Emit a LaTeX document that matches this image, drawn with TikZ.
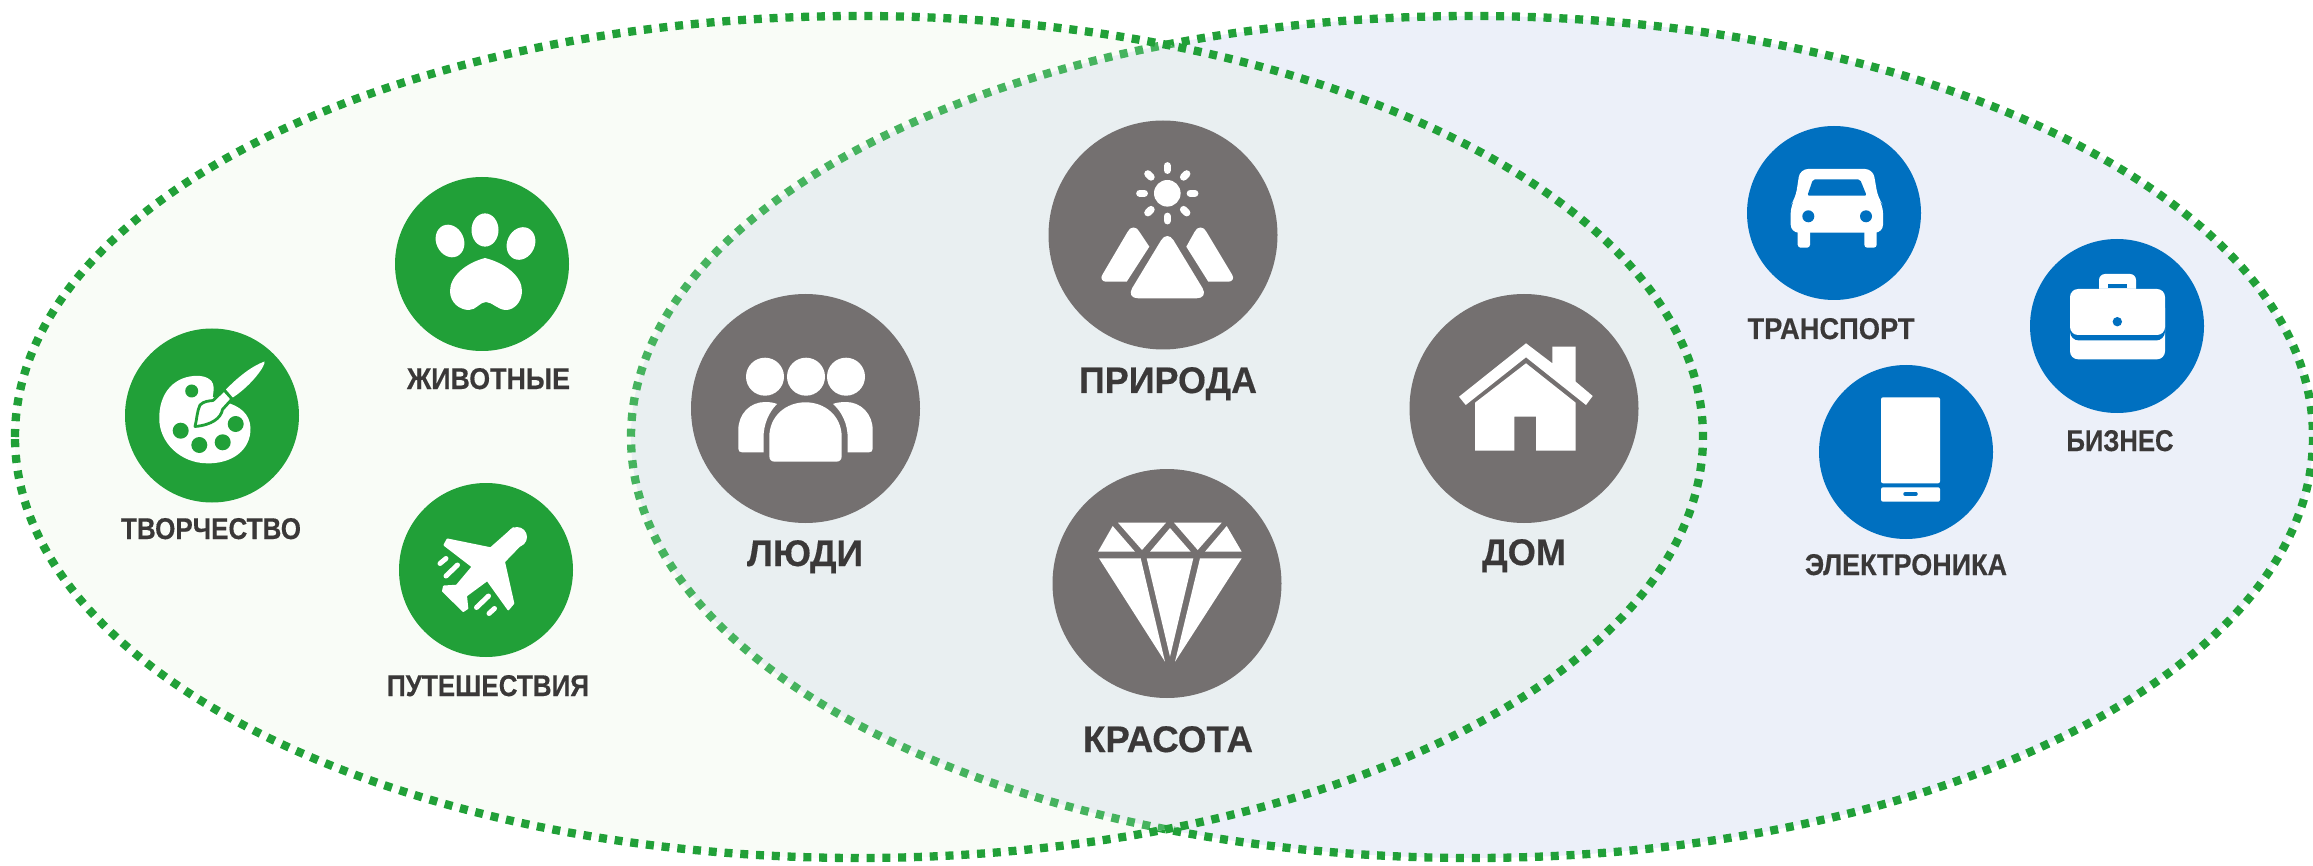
\documentclass[tikz,border=0pt]{standalone}
\usepackage{fontspec}
\usepackage{graphicx}
\setmainfont[BoldFeatures={FakeBold=0.4}]{Liberation Sans}
\definecolor{gr}{HTML}{21A038}
\definecolor{lgr}{HTML}{46B35E}
\definecolor{gy}{HTML}{747070}
\definecolor{bl}{HTML}{0070C0}
\definecolor{tx}{HTML}{3A3838}
\definecolor{fl}{HTML}{F9FCF7}
\definecolor{fr}{HTML}{ECF0F9}
\definecolor{fm}{HTML}{E9EFF1}
\newcommand{\smalllbl}[2]{\resizebox{#1pt}{\height}{\fontsize{30}{32}\selectfont\bfseries #2}}
\newcommand{\biglbl}[2]{\resizebox{#1pt}{\height}{\fontsize{37}{39}\selectfont\bfseries #2}}
\tikzset{
  dots/.style={line width=8.3pt,dash pattern=on 8pt off 7.8pt},
  gcirc/.style={circle,fill=gr,inner sep=0pt,minimum size=174pt},
  bcirc/.style={circle,fill=bl,inner sep=0pt,minimum size=174pt},
  ycirc/.style={circle,fill=gy,inner sep=0pt,minimum size=229pt},
  lbl/.style={anchor=base,inner sep=0pt,text=tx},
  ray/.style={white,line width=7.3pt,line cap=round},
  streak/.style={white,line width=5pt,line cap=round},
  leftell/.style={x radius=844,y radius=421},
  rightell/.style={x radius=841,y radius=421}
}
\begin{document}
\begin{tikzpicture}[x=1pt,y=-1pt]
\useasboundingbox (0,0) rectangle (2313,866);
\fill[white] (0,0) rectangle (2313,866);
% ellipses
\fill[fl] (859,437) ellipse[leftell];
\fill[fr] (1472,437) ellipse[rightell];
\draw[gr,dots] (1472,437) ellipse[rightell];
\begin{scope}
  \clip (859,437) ellipse[leftell];
  \fill[fl] (859,437) ellipse[leftell];
  \fill[fm] (1472,437) ellipse[rightell];
  \draw[lgr,dots] (1472,437) ellipse[rightell];
\end{scope}
\draw[gr,dots] (15,437) arc[start angle=180,end angle=540,leftell];
% circles
\node[gcirc] (art) at (212,415.5) {};
\node[gcirc] (paw) at (482,264) {};
\node[gcirc] (plane) at (486,570) {};
\node[ycirc] (people) at (805.5,408.5) {};
\node[ycirc] (nature) at (1163,235) {};
\node[ycirc] (gem) at (1167,583.5) {};
\node[ycirc] (home) at (1524,408.5) {};
\node[bcirc] (car) at (1834,213) {};
\node[bcirc] (bag) at (2117,326) {};
\node[bcirc] (phone) at (1906,452) {};
% labels
\node[lbl] (lart) at (211,539) {\smalllbl{180}{ТВОРЧЕСТВО}};
\node[lbl] (lpaw) at (488.5,389) {\smalllbl{163}{ЖИВОТНЫЕ}};
\node[lbl] (lplane) at (488,696) {\smalllbl{202}{ПУТЕШЕСТВИЯ}};
\node[lbl] (lpeople) at (805,566) {\biglbl{116}{ЛЮДИ}};
\node[lbl] (lnature) at (1168,393) {\biglbl{178}{ПРИРОДА}};
\node[lbl] (lgem) at (1168,752) {\biglbl{170}{КРАСОТА}};
\node[lbl] (lhome) at (1524,565) {\biglbl{84}{ДОМ}};
\node[lbl] (lcar) at (1831,339) {\smalllbl{167}{ТРАНСПОРТ}};
\node[lbl] (lbag) at (2120,451) {\smalllbl{107}{БИЗНЕС}};
\node[lbl] (lphone) at (1906,575) {\smalllbl{202}{ЭЛЕКТРОНИКА}};
% paw
\fill[white] (485,230) ellipse[x radius=13.5,y radius=16.6];
\fill[white,rotate around={25:(450,241)}] (450,241) ellipse[x radius=13.8,y radius=16.8];
\fill[white,rotate around={-25:(521,243.5)}] (521,243.5) ellipse[x radius=13.8,y radius=16.8];
\fill[white] (485,258) .. controls (466,263) and (450,276) .. (450,291)
  .. controls (450,303) and (460,310) .. (469,310)
  .. controls (476,310) and (480,302) .. (486,302)
  .. controls (492,302) and (498,310) .. (506,310)
  .. controls (514,310) and (522,302) .. (522,291)
  .. controls (522,276) and (505,263) .. (485,258) -- cycle;
% palette
\fill[white] (193.3,376) .. controls (203,375) and (213,378) .. (213.5,386.7)
  .. controls (214,391) and (213,394) .. (212.7,397)
  -- (225,402) .. controls (240,406) and (250,414) .. (250.5,428)
  .. controls (251,450) and (232,464) .. (206.7,463.3)
  .. controls (180,463) and (159,442) .. (159.3,418.3)
  .. controls (159,395) and (172,378) .. (193.3,376) -- cycle;
\fill[gr] (191.7,391) circle[radius=6.5];
\fill[gr] (180.7,430.7) circle[radius=8];
\fill[gr] (199.3,445) circle[radius=8];
\fill[gr] (222.7,442.3) circle[radius=8];
\fill[gr] (235.7,424) circle[radius=8];
\draw[gr,line width=2.8pt,fill=white,line join=round] (200,405) .. controls (204,401) and (209,401) .. (213,400.5)
  -- (224,390) -- (232,399) -- (222.5,409.5)
  .. controls (221,418) and (212,425) .. (195,426.5)
  .. controls (197,419) and (197,411) .. (200,405) -- cycle;
\fill[white] (226,389.5) .. controls (238,377) and (252,366) .. (264.5,361.5)
  .. controls (266,365) and (252,385) .. (232.8,397.5) -- cycle;
\draw[gr,line width=1.2pt] (224.5,390.5) -- (232,398.5);
% plane
\fill[white] (517,537) circle[radius=10];
\fill[white,draw=white,line width=2pt,line join=round] (513.3,528.3) -- (524,541) -- (504,561.7)
  -- (513.3,603.3) -- (508.3,609.3) -- (487.3,580) -- (466,595.7) -- (467.3,608.3) -- (463.3,611)
  -- (443,591) -- (444,586.5) -- (456.7,585.7) -- (472.7,566.7) -- (444.5,545) -- (447.5,539.5)
  -- (490.7,548.3) -- cycle;
\draw[streak] (440,563.5) -- (446,558.5);
\draw[streak] (446,576) -- (457.5,565);
\draw[streak] (476.5,607.5) -- (488.5,596);
\draw[streak] (489,613.5) -- (494.5,608.5);
% people
\fill[white] (765,376.7) circle[radius=19];
\fill[white] (806,376.7) circle[radius=19];
\fill[white] (846,376.7) circle[radius=19];
\fill[white] (763.5,452.3) -- (742,452.3) .. controls (739.5,452.3) and (738.3,451) .. (738.3,448.5)
  -- (738.3,430) .. controls (738.3,414) and (750,402) .. (765,402)
  .. controls (769,402) and (774,402.5) .. (777,404) .. controls (769,412) and (763.5,424) .. (763.5,438) -- cycle;
\fill[white] (847.7,452.3) -- (869,452.3) .. controls (871.5,452.3) and (872.7,451) .. (872.7,448.5)
  -- (872.7,430) .. controls (872.7,414) and (861,402) .. (846,402)
  .. controls (842,402) and (836,402.5) .. (833,404) .. controls (842,412) and (847.7,424) .. (847.7,438) -- cycle;
\fill[white] (769.3,437) .. controls (769.3,416) and (786,402.3) .. (805.5,402.3)
  .. controls (825,402.3) and (841.7,416) .. (841.7,437) -- (841.7,456)
  .. controls (841.7,460) and (839.5,461.7) .. (836,461.7) -- (775,461.7)
  .. controls (771.5,461.7) and (769.3,460) .. (769.3,456) -- cycle;
% nature
\fill[white] (1167.3,193.3) circle[radius=13.3];
\foreach \a in {0,45,...,315}{
  \draw[ray,shift={(1167.3,193.3)}] (\a:23) -- (\a:27.5);
}
\fill[white,rounded corners=12pt] (1167.3,230) -- (1208.7,298.3) -- (1126,298.3) -- cycle;
\fill[white] (1149.3,246.7) -- (1126.7,281.7) -- (1110,281.7) -- (1106,281.7)
  .. controls (1102,281.7) and (1100,278) .. (1102.5,274.5)
  -- (1127.5,232) .. controls (1130,226) and (1137,226) .. (1139.5,232) -- cycle;
\fill[white] (1186.3,246.7) -- (1208.3,281.7) -- (1224,281.7) -- (1228.5,281.7)
  .. controls (1232.5,281.7) and (1234.5,278) .. (1232,274.5)
  -- (1206.5,232) .. controls (1204,226) and (1197,226) .. (1194.5,232) -- cycle;
% diamond
\fill[white] (1112.7,526) -- (1135,551.7) -- (1098,551.7) -- cycle;
\fill[white] (1118,522.7) -- (1166,522.7) -- (1142,550) -- cycle;
\fill[white] (1170,528) -- (1190.7,551.7) -- (1150,551.7) -- cycle;
\fill[white] (1174,522.7) -- (1221.7,522.7) -- (1197.7,550) -- cycle;
\fill[white] (1226.7,526) -- (1241.7,551.7) -- (1205,551.7) -- cycle;
\fill[white] (1099,558.3) -- (1140.7,558.3) -- (1165,661.7) -- cycle;
\fill[white] (1146.7,558.3) -- (1193.3,558.3) -- (1170,656.7) -- cycle;
\fill[white] (1200,558.3) -- (1241.7,558.3) -- (1175,661.7) -- cycle;
% house
\fill[white] (1459,396.7) -- (1526,343.3) -- (1552.3,363.3) -- (1552.3,346.7) -- (1575.7,346.7)
  -- (1575.7,381.7) -- (1592.7,396) -- (1586,405) -- (1526,357.3) -- (1465.7,405) -- cycle;
\fill[white] (1475,402.7) -- (1526,363.3) -- (1575.7,402.7) -- (1575.7,450.7) -- (1536,450.7)
  -- (1536,416.7) -- (1514.3,416.7) -- (1514.3,450.7) -- (1475,450.7) -- cycle;
% car
\fill[white,rounded corners=8pt] (1800,169) -- (1873,169) -- (1878,198) -- (1883,205) -- (1883,232.7)
  -- (1790.7,232.7) -- (1790.7,205) -- (1795.5,198) -- cycle;
\fill[bl,rounded corners=2pt] (1813,179.3) -- (1860,179.3) -- (1866.7,195.7) -- (1807.3,195.7) -- cycle;
\fill[bl] (1808.3,216.3) circle[radius=6];
\fill[bl] (1866,216.3) circle[radius=6];
\fill[white,rounded corners=3pt] (1797.7,225) rectangle (1810,247.7);
\fill[white,rounded corners=3pt] (1864.3,225) rectangle (1876.7,247.7);
% briefcase
\fill[white,rounded corners=6pt] (2099,274) rectangle (2136,300);
\fill[bl] (2108.3,284) rectangle (2127.3,288.3);
\fill[white,rounded corners=8pt] (2070,300) rectangle (2165,359.3);
\fill[bl,rounded corners=9pt] (2070,289) rectangle (2165,340.5);
\fill[white,rounded corners=8pt] (2070,289) rectangle (2165,335);
\fill[bl] (2117.3,321.7) circle[radius=4.7];
% phone
\fill[white,rounded corners=2pt] (1881,397.3) -- (1940,397.3) -- (1940,483.3) -- (1881,483.3) -- cycle;
\fill[white,rounded corners=2pt] (1881,487.3) -- (1940,487.3) -- (1940,501.7) -- (1881,501.7) -- cycle;
\draw[bl,line width=3.5pt,line cap=round] (1905,494) -- (1916,494);
\end{tikzpicture}
\end{document}
